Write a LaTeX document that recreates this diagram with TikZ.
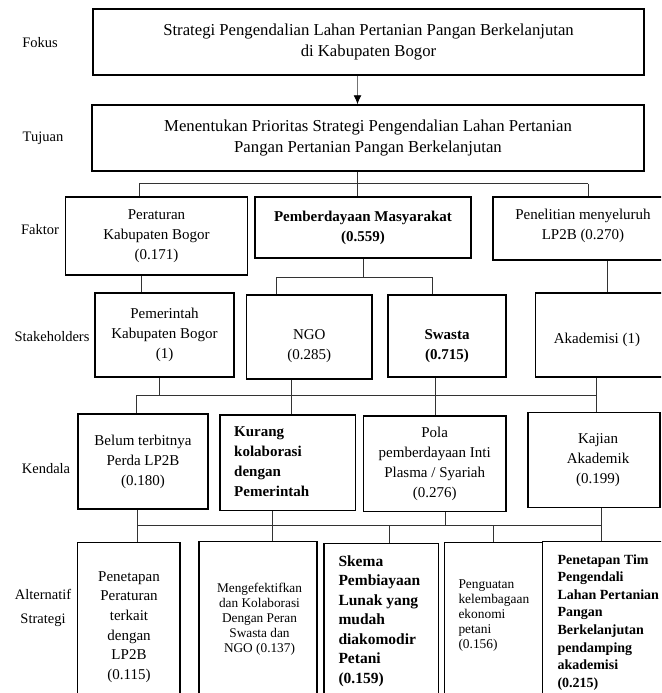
\documentclass[tikz,border=0pt]{standalone}
\usepackage{fontspec}
\setmainfont{Liberation Serif}
\usetikzlibrary{arrows.meta}

\begin{document}
\begin{tikzpicture}[x=1pt,y=-1pt,
  box/.style={draw=black, line width=1.5pt, inner sep=0pt},
  lbl/.style={font=\fontsize{14.5}{18}\selectfont, inner sep=0pt},
  txt/.style={font=\fontsize{15}{20}\selectfont, align=center, inner sep=0pt},
  btxt/.style={font=\fontsize{15}{20}\selectfont\bfseries, align=center, inner sep=0pt},
  ttxt/.style={font=\fontsize{16.7}{21.5}\selectfont, align=center, inner sep=0pt},
  conn/.style={draw=black!80, line width=0.9pt},
  arr/.style={draw=black!55, line width=0.9pt, -{Latex[length=9pt,width=8pt,black]}}]

\useasboundingbox (0,0) rectangle (661,693);
\clip (0,0) rectangle (661,693);

% level labels
\node[lbl] (lFok) at (40,43) {Fokus};
\node[lbl] (lTuj) at (43,138) {Tujuan};
\node[lbl] (lFak) at (40,230) {Faktor};
\node[lbl] (lSta) at (52,337) {Stakeholders};
\node[lbl] (lKen) at (46,469) {Kendala};
\node[lbl] (lAlt) at (43,594) {Alternatif};
\node[lbl] (lStr) at (43,620) {Strategi};

% Fokus and Tujuan
\node[box, ttxt, minimum width=551pt, minimum height=66pt] (fok) at (368.5,42)
  {Strategi Pengendalian Lahan Pertanian Pangan Berkelanjutan\\di Kabupaten Bogor};
\node[box, ttxt, minimum width=552pt, minimum height=66pt] (tuj) at (368,138)
  {Menentukan Prioritas Strategi Pengendalian Lahan Pertanian\\Pangan Pertanian Pangan Berkelanjutan};

% Faktor
\node[box, txt, minimum width=182pt, minimum height=78pt] (per) at (156.5,236)
  {Peraturan\\Kabupaten Bogor\\(0.171)};
\node[box, btxt, minimum width=215.7pt, minimum height=61pt] (pmb) at (363,227.5)
  {Pemberdayaan Masyarakat\\(0.559)};
\node[box, minimum width=188pt, minimum height=63pt] (pen) at (587,228.5) {};
\node[txt] (penT) at (583,226) {Penelitian menyeluruh\\LP2B (0.270)};

% Stakeholders
\node[box, txt, minimum width=139pt, minimum height=84pt] (pemk) at (164.5,335)
  {Pemerintah\\Kabupaten Bogor\\(1)};
\node[box, minimum width=125.4pt, minimum height=84pt] (ngo) at (309.3,337) {};
\node[txt] (ngoT) at (309.3,346) {NGO\\(0.285)};
\node[box, minimum width=118pt, minimum height=82pt] (swa) at (447,336) {};
\node[btxt] (swaT) at (447,346) {Swasta\\(0.715)};
\node[box, minimum width=145pt, minimum height=84pt] (aka) at (608,335) {};
\node[txt] (akaT) at (597,340) {Akademisi (1)};

% Kendala
\node[box, txt, minimum width=130pt, minimum height=95pt] (bel) at (143,461.7)
  {Belum terbitnya\\Perda LP2B\\(0.180)};
\node[box, minimum width=135.4pt, minimum height=95.7pt] (kur) at (287.7,462.8) {};
\node[btxt, align=left, anchor=west] (kurT) at (234,462)
  {Kurang\\kolaborasi\\dengan\\Pemerintah};
\node[box, txt, minimum width=142.6pt, minimum height=95.7pt] (pol) at (434.7,463.8)
  {Pola\\pemberdayaan Inti\\Plasma / Syariah\\(0.276)};
\node[box, minimum width=132pt, minimum height=94.6pt] (kaj) at (594,460) {};
\node[txt] (kajT) at (598,460.5) {Kajian\\Akademik\\(0.199)};

% Alternatif Strategi (cut at the bottom)
\node[box, minimum width=102.3pt, minimum height=177.3pt] (a1) at (128.85,631.35) {};
\node[txt, font=\fontsize{15}{19.6}\selectfont] (a1T) at (129,627)
  {Penetapan\\Peraturan\\terkait\\dengan\\LP2B\\(0.115)};
\node[box, minimum width=118pt, minimum height=178.3pt] (a2) at (258,630.85) {};
\node[align=center, inner sep=0pt, font=\fontsize{13.3}{15}\selectfont] (a2T) at (259.5,619)
  {Mengefektifkan\\dan Kolaborasi\\Dengan Peran\\Swasta dan\\NGO (0.137)};
\node[box, minimum width=114.3pt, minimum height=176.7pt] (a3) at (381.15,631.65) {};
\node[align=left, anchor=west, inner sep=0pt, font=\fontsize{15.5}{19.5}\selectfont\bfseries] (a3T) at (338.3,621)
  {Skema\\Pembiayaan\\Lunak yang\\mudah\\diakomodir\\Petani\\(0.159)};
\node[box, minimum width=98.4pt, minimum height=177.3pt] (a4) at (493.5,631.35) {};
\node[align=left, anchor=west, inner sep=0pt, font=\fontsize{13.4}{15}\selectfont] (a4T) at (458.3,616)
  {Penguatan\\kelembagaan\\ekonomi\\petani\\(0.156)};
\node[box, minimum width=147.3pt, minimum height=178.3pt] (a5) at (616.35,630.85) {};
\node[align=left, anchor=west, inner sep=0pt, font=\fontsize{14}{17.6}\selectfont\bfseries] (a5T) at (557.3,622.4)
  {Penetapan Tim\\Pengendali\\Lahan Pertanian\\Pangan\\Berkelanjutan\\pendamping\\akademisi\\(0.215)};

% x positions of the connector lines
\coordinate (xA) at (357.5,0);
\coordinate (xB1) at (139,183.5);
\coordinate (xB2) at (588,183.5);
\coordinate (xC1) at (141,0);
\coordinate (xC2) at (363,0);
\coordinate (xS1) at (276,277);
\coordinate (xS2) at (432,277);
\coordinate (xC3) at (607.5,0);
\coordinate (xK0) at (136,395);
\coordinate (xK1) at (597,395);
\coordinate (xD1) at (159,0);
\coordinate (xD2) at (291,0);
\coordinate (xD3) at (435.5,0);
\coordinate (xD4) at (596,0);
\coordinate (xL0) at (137,525.5);
\coordinate (xL1) at (601,525.5);
\coordinate (xE2) at (272,0);
\coordinate (xE3) at (445,0);
\coordinate (xE4) at (389,0);
\coordinate (xE5) at (493,0);

% Fokus -> Tujuan
\draw[arr] (xA |- fok.south) -- (xA |- tuj.north);

% Tujuan -> Faktor
\draw[conn] (xA |- tuj.south) -- (xA |- pmb.north);
\draw[conn] (xB1) -- (xB2);
\draw[conn] (xB1) -- (xB1 |- per.north);
\draw[conn] (xB2) -- (xB2 |- pen.north);

% Faktor -> Stakeholders
\draw[conn] (xC1 |- per.south) -- (xC1 |- pemk.north);
\draw[conn] (xC2 |- pmb.south) -- (xC2 |- xS1);
\draw[conn] (xS1) -- (xS2);
\draw[conn] (xS1) -- (xS1 |- ngo.north);
\draw[conn] (xS2) -- (xS2 |- swa.north);
\draw[conn] (xC3 |- pen.south) -- (xC3 |- aka.north);

% Stakeholders -> Kendala
\draw[conn] (xK0) -- (xK1);
\draw[conn] (xK0) -- (xK0 |- bel.north);
\draw[conn] (xD1 |- pemk.south) -- (xD1 |- xK0);
\draw[conn] (xD2 |- ngo.south) -- (xD2 |- kur.north);
\draw[conn] (xD3 |- swa.south) -- (xD3 |- pol.north);
\draw[conn] (xD4 |- aka.south) -- (xD4 |- kaj.north);

% Kendala -> Alternatif
\draw[conn] (xL0) -- (xL1);
\draw[conn] (xL0 |- bel.south) -- (xL0 |- a1.north);
\draw[conn] (xE2 |- kur.south) -- (xE2 |- a2.north);
\draw[conn] (xE3 |- pol.south) -- (xE3 |- xL0);
\draw[conn] (xL1 |- kaj.south) -- (xL1 |- a5.north);
\draw[conn] (xE4 |- xL0) -- (xE4 |- a3.north);
\draw[conn] (xE5 |- xL0) -- (xE5 |- a4.north);

\end{tikzpicture}
\end{document}
